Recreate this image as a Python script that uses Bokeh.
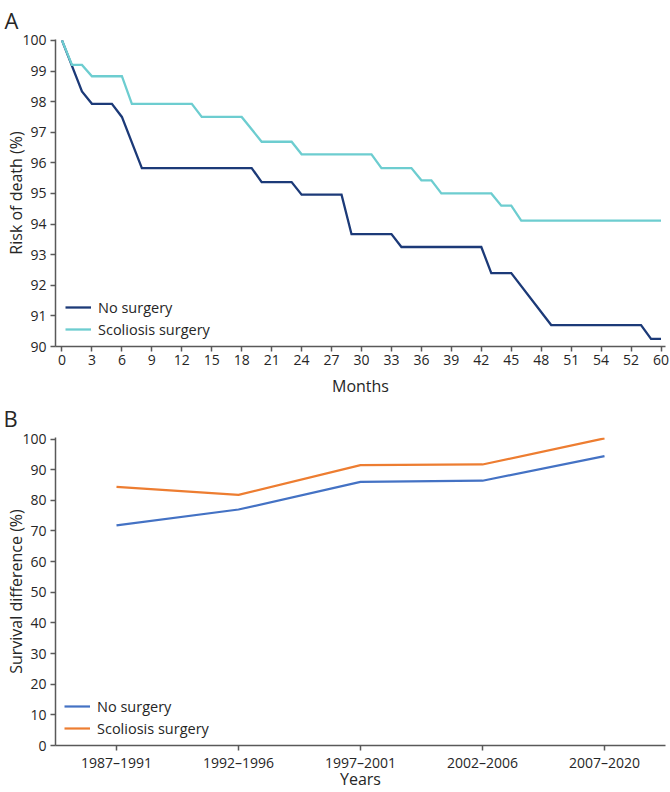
from bokeh.plotting import figure
from bokeh.layouts import column
from bokeh.models import FixedTicker, Range1d, FactorRange, Legend, LegendItem
from bokeh.embed import file_html
from bokeh.resources import INLINE

# ---------------- data ----------------
# Panel A: risk of death (%) by month
months_none = [0, 2, 3, 5, 6, 8, 19, 20, 23, 24, 28, 29, 33, 34, 42, 43, 45, 49, 58, 59, 60]
risk_none = [100, 98.33, 97.93, 97.93, 97.5, 95.83, 95.83, 95.37, 95.37, 94.96, 94.96,
             93.67, 93.67, 93.25, 93.25, 92.4, 92.4, 90.7, 90.7, 90.25, 90.25]
months_surg = [0, 1, 2, 3, 6, 7, 13, 14, 18, 20, 23, 24, 31, 32, 35, 36, 37, 38, 43, 44, 45, 46, 60]
risk_surg = [100, 99.2, 99.2, 98.83, 98.83, 97.93, 97.93, 97.5, 97.5, 96.69, 96.69, 96.28, 96.28,
             95.83, 95.83, 95.43, 95.43, 95.0, 95.0, 94.6, 94.6, 94.11, 94.11]
month_ticks = list(range(0, 61, 3))
month_tick_overrides = {57: "52"}  # as printed in the original figure
risk_ticks = list(range(90, 101))

# Panel B: survival difference (%) by period
periods = ["1987–1991", "1992–1996", "1997–2001", "2002–2006", "2007–2020"]
diff_none = [71.8, 77.0, 86.0, 86.4, 94.4]
diff_surg = [84.4, 81.8, 91.5, 91.7, 100.2]
diff_ticks = list(range(0, 101, 10))

series_names = ["No surgery", "Scoliosis surgery"]

# ---------------- style ----------------
FONT = "Open Sans"
AXIS_COLOR = "#595959"
TEXT_COLOR = "#262626"


def style(p, title_offset, title_standoff):
    for ax in p.axis:
        ax.axis_line_color = AXIS_COLOR
        ax.axis_line_width = 1.5
        ax.major_tick_line_color = AXIS_COLOR
        ax.major_tick_line_width = 1.5
        ax.major_tick_out = 5
        ax.major_tick_in = 0
        ax.minor_tick_line_color = None
        ax.major_label_text_font = FONT
        ax.major_label_text_font_size = "14px"
        ax.major_label_text_color = TEXT_COLOR
        ax.axis_label_text_font = FONT
        ax.axis_label_text_font_size = "16px"
        ax.axis_label_text_font_style = "normal"
        ax.axis_label_text_color = TEXT_COLOR
    p.yaxis.major_label_standoff = 4
    p.yaxis.axis_label_standoff = -8
    p.xgrid.visible = False
    p.ygrid.visible = False
    p.outline_line_color = None
    p.title.text_font = FONT
    p.title.text_font_size = "22px"
    p.title.text_font_style = "normal"
    p.title.text_color = TEXT_COLOR
    p.title.align = "left"
    p.title.vertical_align = "top"
    p.title.offset = title_offset
    p.title.standoff = title_standoff


def make_legend(renderers, x):
    return Legend(
        items=[LegendItem(label=n, renderers=[r]) for n, r in zip(series_names, renderers)],
        location=(x, 7), padding=0, margin=0, spacing=2,
        glyph_width=26, glyph_height=20, label_height=20, label_standoff=7,
        border_line_color=None, background_fill_alpha=0,
        label_text_font=FONT, label_text_font_size="14.5px", label_text_color=TEXT_COLOR,
    )


# ---------------- Panel A ----------------
pA = figure(width=670, height=399, output_backend="svg", toolbar_location=None,
            title="A",
            x_range=Range1d(-0.65, 60.45), y_range=Range1d(90, 100.03),
            min_border_left=54, min_border_right=5, min_border_top=39, min_border_bottom=30)
rA1 = pA.line(months_none, risk_none, line_color="#1c3a78", line_width=2.3, line_join="miter")
rA2 = pA.line(months_surg, risk_surg, line_color="#6dcdd0", line_width=2.3, line_join="miter")
pA.xaxis.ticker = FixedTicker(ticks=month_ticks)
pA.xaxis.major_label_overrides = month_tick_overrides
pA.yaxis.ticker = FixedTicker(ticks=risk_ticks)
pA.xaxis.axis_label = "Months"
pA.yaxis.axis_label = "Risk of death (%)"
style(pA, -51, 6)
pA.xaxis.major_label_standoff = 3
pA.xaxis.axis_label_standoff = 7
pA.add_layout(make_legend([rA1, rA2], 10))

# ---------------- Panel B ----------------
pB = figure(width=670, height=393, output_backend="svg", toolbar_location=None,
            title="B",
            x_range=FactorRange(factors=periods), y_range=Range1d(0, 100.5),
            min_border_left=55, min_border_right=5, min_border_top=38, min_border_bottom=30)
rB1 = pB.line(periods, diff_none, line_color="#4472c4", line_width=2.2)
rB2 = pB.line(periods, diff_surg, line_color="#ed7d31", line_width=2.2)
pB.yaxis.ticker = FixedTicker(ticks=diff_ticks)
pB.xaxis.axis_label = "Years"
pB.yaxis.axis_label = "Survival difference (%)"
style(pB, -52, 5)
pB.xaxis.major_label_standoff = 2
pB.xaxis.axis_label_standoff = -7
pB.add_layout(make_legend([rB1, rB2], 9))

layout = column(pA, pB, spacing=0)
open("out.html", "w").write(file_html(layout, INLINE))
